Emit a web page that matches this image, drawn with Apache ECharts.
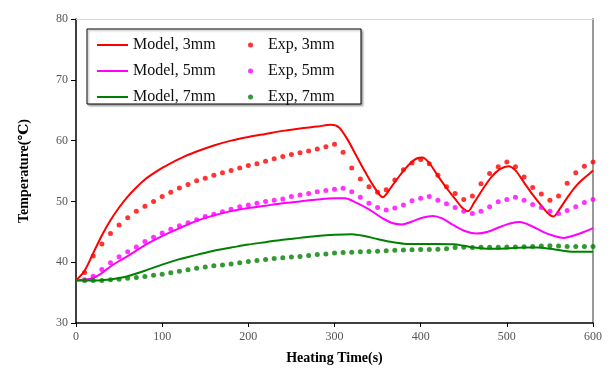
<!DOCTYPE html>
<html>
<head>
<meta charset="utf-8">
<script src="https://cdn.jsdelivr.net/npm/echarts@6/dist/echarts.min.js"></script>
<style>
  html, body { margin: 0; padding: 0; background: #fff; }
  #chart { width: 609px; height: 377px; }
</style>
</head>
<body>
<div id="chart"></div>
<script>
// model curves (time in s, temperature in deg C)
const model3Time = [0, 10, 20, 30, 40, 50, 60, 70, 80, 90, 100, 120, 140, 160, 180, 200, 220, 240, 260, 280, 296, 305, 315, 325, 335, 345, 356, 366, 376, 386, 396, 402, 410, 420, 430, 440, 448, 455, 462, 472, 482, 492, 502, 510, 520, 530, 540, 548, 554, 562, 572, 582, 592, 600]
const model3Temp = [37, 38.6, 41.5, 44.4, 46.9, 49.0, 50.8, 52.3, 53.6, 54.6, 55.5, 57.0, 58.2, 59.2, 60.0, 60.6, 61.1, 61.6, 62.0, 62.3, 62.6, 62.2, 60.2, 57.6, 55.0, 52.6, 50.7, 52.4, 54.3, 56.0, 57.1, 57.2, 56.3, 54.2, 52.2, 50.4, 49.0, 48.4, 49.8, 52.0, 54.0, 55.3, 55.8, 55.1, 53.1, 51.1, 49.3, 48.0, 47.5, 48.9, 51.0, 52.8, 54.1, 55.1]

const model5Time = [0, 10, 20, 30, 40, 50, 60, 70, 80, 90, 100, 120, 140, 160, 180, 200, 220, 240, 260, 280, 300, 312, 325, 340, 355, 368, 378, 390, 402, 414, 425, 438, 452, 465, 478, 492, 505, 515, 528, 542, 555, 566, 578, 590, 600]
const model5Temp = [37, 37.1, 37.4, 38.2, 39.3, 40.2, 41.0, 41.9, 42.8, 43.6, 44.3, 45.6, 46.8, 47.7, 48.4, 48.9, 49.3, 49.7, 50.0, 50.3, 50.5, 50.5, 49.8, 48.7, 47.3, 46.4, 46.2, 46.7, 47.3, 47.6, 47.2, 46.1, 45.1, 44.7, 45.0, 45.8, 46.4, 46.6, 46.0, 45.0, 44.3, 44.0, 44.4, 45.0, 45.6]

const model7Time = [0, 20, 30, 40, 50, 60, 80, 100, 120, 140, 160, 180, 200, 220, 240, 260, 280, 300, 320, 335, 350, 365, 380, 400, 420, 438, 450, 462, 480, 500, 520, 535, 550, 565, 580, 600]
const model7Temp = [37, 37, 37.05, 37.15, 37.4, 37.7, 38.6, 39.6, 40.5, 41.2, 41.9, 42.4, 42.9, 43.3, 43.7, 44.0, 44.3, 44.5, 44.6, 44.3, 43.8, 43.35, 43.05, 43.0, 43.0, 42.95, 42.7, 42.4, 42.2, 42.25, 42.4, 42.4, 42.2, 41.9, 41.7, 41.7]

// measured points
const expTime = [10, 20, 30, 40, 50, 60, 70, 80, 90, 100, 110, 120, 130, 140, 150, 160, 170, 180, 190, 200, 210, 220, 230, 240, 250, 260, 270, 280, 290, 300, 310, 320, 330, 340, 350, 360, 370, 380, 390, 400, 410, 420, 430, 440, 450, 460, 470, 480, 490, 500, 510, 520, 530, 540, 550, 560, 570, 580, 590, 600]
const exp3Temp = [38.3, 41.0, 43.0, 44.7, 46.1, 47.3, 48.4, 49.2, 50.0, 50.8, 51.5, 52.2, 52.8, 53.4, 53.8, 54.3, 54.7, 55.1, 55.5, 55.9, 56.2, 56.6, 57.0, 57.4, 57.7, 58.0, 58.3, 58.6, 59.0, 59.4, 58.1, 55.5, 53.7, 52.4, 51.5, 51.9, 53.5, 55.2, 56.3, 56.9, 56.2, 54.3, 52.4, 51.3, 50.3, 50.9, 52.9, 54.6, 55.7, 56.5, 55.7, 54.0, 52.3, 51.2, 50.2, 50.9, 53.0, 54.7, 55.8, 56.5]
const exp5Temp = [37.1, 37.7, 38.8, 39.9, 40.9, 41.7, 42.5, 43.4, 44.1, 44.8, 45.4, 46.0, 46.5, 47.0, 47.5, 47.9, 48.3, 48.7, 49.1, 49.4, 49.7, 50.0, 50.2, 50.4, 50.8, 51.05, 51.3, 51.6, 51.8, 52.0, 52.15, 51.6, 50.7, 49.7, 49.0, 48.6, 48.9, 49.4, 50.1, 50.5, 50.8, 50.2, 49.6, 49.0, 48.4, 48.0, 48.4, 49.1, 49.95, 50.3, 50.7, 50.2, 49.5, 49.0, 48.4, 48.0, 48.5, 49.1, 49.8, 50.3]
const exp7Temp = [37.0, 37.0, 37.0, 37.1, 37.2, 37.35, 37.5, 37.65, 37.85, 38.0, 38.25, 38.5, 38.75, 39.0, 39.2, 39.4, 39.55, 39.7, 39.9, 40.1, 40.3, 40.45, 40.6, 40.75, 40.85, 40.95, 41.1, 41.25, 41.35, 41.5, 41.6, 41.65, 41.7, 41.75, 41.8, 41.9, 41.95, 42.0, 42.05, 42.1, 42.1, 42.15, 42.2, 42.4, 42.45, 42.4, 42.45, 42.45, 42.45, 42.5, 42.5, 42.55, 42.6, 42.65, 42.7, 42.65, 42.6, 42.6, 42.6, 42.6]

const modelNames = ['Model, 3mm', 'Model, 5mm', 'Model, 7mm']
const expNames = ['Exp, 3mm', 'Exp, 5mm', 'Exp, 7mm']
const colors = ['#ff0000', '#ff00ff', '#008000']

const serif = "'Liberation Serif', 'DejaVu Serif', serif"

function zip (xs, ys) {
  return xs.map((x, i) => [x, ys[i]])
}

const chart = echarts.init(document.getElementById('chart'))

const modelSeries = [model3Temp, model5Temp, model7Temp].map((temps, i) => ({
  name: modelNames[i],
  type: 'line',
  data: zip([model3Time, model5Time, model7Time][i], temps),
  symbol: 'none',
  smooth: 0.3,
  lineStyle: { color: colors[i], width: 2 },
  itemStyle: { color: colors[i] },
  z: 3
}))

const expSeries = [exp3Temp, exp5Temp, exp7Temp].map((temps, i) => ({
  name: expNames[i],
  type: 'scatter',
  data: zip(expTime, temps),
  symbol: 'circle',
  symbolSize: 5,
  itemStyle: { color: colors[i] },
  z: 4
}))

const legendText = { fontFamily: serif, fontSize: 16, color: '#111', lineHeight: 18 }

chart.setOption({
  animation: false,
  backgroundColor: '#fff',
  grid: { left: 76, right: 16, top: 19, bottom: 54 },
  graphic: [{
    type: 'rect',
    shape: { x: 87, y: 29, width: 274, height: 75 },
    style: { fill: '#fff', stroke: '#000', lineWidth: 1, shadowBlur: 2, shadowOffsetX: 1.5, shadowOffsetY: 1.5, shadowColor: 'rgba(0,0,0,0.3)' },
    z: 5
  }],
  legend: [
    {
      data: modelNames,
      orient: 'vertical',
      left: 92,
      top: 31,
      icon: 'rect',
      itemWidth: 31,
      itemHeight: 2,
      itemGap: 8,
      textStyle: legendText,
      z: 6
    },
    {
      data: expNames,
      orient: 'vertical',
      left: 243,
      top: 31,
      icon: 'circle',
      itemWidth: 5,
      itemHeight: 5,
      itemGap: 8,
      textStyle: Object.assign({}, legendText, { padding: [0, 0, 0, 10] }),
      z: 6
    }
  ],
  xAxis: [
    {
      type: 'value',
      min: 0,
      max: 600,
      interval: 100,
      name: 'Heating Time(s)',
      nameLocation: 'middle',
      nameGap: 28,
      nameTextStyle: { fontFamily: serif, fontSize: 14, fontWeight: 'bold', color: '#000' },
      axisLine: { show: true, onZero: false, lineStyle: { color: '#000', width: 1.5 } },
      axisTick: { show: true, length: 4, lineStyle: { color: '#000' } },
      axisLabel: { margin: 8, fontFamily: serif, fontSize: 12, color: '#555' },
      splitLine: { show: false }
    },
    {
      type: 'value',
      position: 'top',
      min: 0,
      max: 600,
      axisLine: { show: true, onZero: false, lineStyle: { color: '#d8d8d8', width: 1 } },
      axisTick: { show: false },
      axisLabel: { show: false },
      splitLine: { show: false }
    }
  ],
  yAxis: [
    {
      type: 'value',
      min: 30,
      max: 80,
      interval: 10,
      name: 'Temperature(\u2103)',
      nameLocation: 'middle',
      nameGap: 45,
      nameTextStyle: { fontFamily: serif, fontSize: 14, fontWeight: 'bold', color: '#000' },
      axisLine: { show: true, onZero: false, lineStyle: { color: '#000', width: 1.5 } },
      axisTick: { show: true, length: 5, lineStyle: { color: '#000' } },
      axisLabel: { margin: 8, fontFamily: serif, fontSize: 12, color: '#555' },
      splitLine: { show: false }
    },
    {
      type: 'value',
      position: 'right',
      min: 30,
      max: 80,
      axisLine: { show: true, onZero: false, lineStyle: { color: '#999', width: 2 } },
      axisTick: { show: false },
      axisLabel: { show: false },
      splitLine: { show: false }
    }
  ],
  series: modelSeries.concat(expSeries)
})
</script>
</body>
</html>
